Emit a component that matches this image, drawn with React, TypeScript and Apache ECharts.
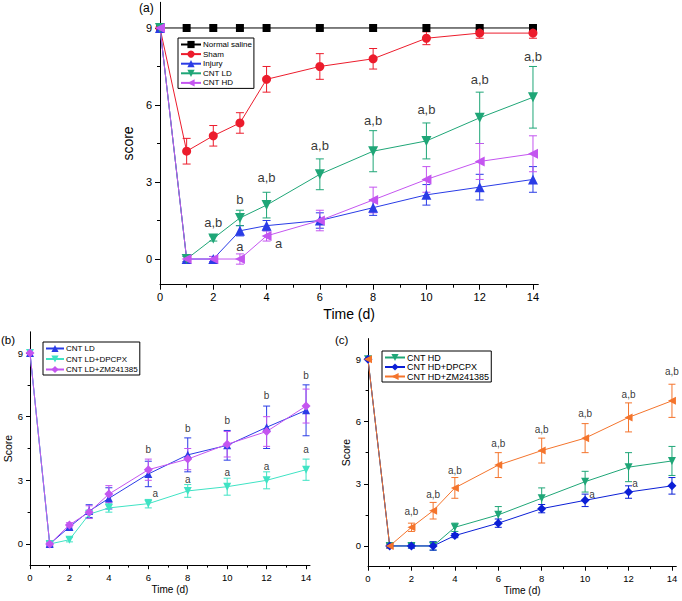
import React, { useEffect, useRef } from "react";
import * as echarts from "echarts";

const FONT = "'Liberation Sans', Arial, sans-serif";

// ---------- shared axis values ----------
const days = [0, 1, 2, 3, 4, 6, 8, 10, 12, 14];
const xTickValues = [0, 2, 4, 6, 8, 10, 12, 14];
const xMinorTickValues = [1, 3, 5, 7, 9, 11, 13];
const yTickValues = [0, 3, 6, 9];
const yMinorTickValues = [1.5, 4.5, 7.5];

// ---------- panel (a) ----------
const aNormalSaline = [9, 9, 9, 9, 9, 9, 9, 9, 9, 9];
const aSham = [9, 4.2, 4.8, 5.3, 7.0, 7.5, 7.8, 8.6, 8.8, 8.8];
const aShamErr = [0, 0.5, 0.4, 0.4, 0.5, 0.5, 0.4, 0.25, 0.2, 0.2];
const aInjury = [9, 0, 0, 1.1, 1.3, 1.5, 2.0, 2.5, 2.8, 3.1];
const aInjuryErr = [0, 0.1, 0.1, 0.2, 0.2, 0.3, 0.3, 0.4, 0.5, 0.5];
const aCntLd = [9, 0, 0.8, 1.6, 2.1, 3.3, 4.2, 4.6, 5.5, 6.3];
const aCntLdErr = [0, 0.1, 0.1, 0.3, 0.5, 0.6, 0.8, 0.7, 1.0, 1.2];
const aCntHd = [9, 0, 0, 0, 0.9, 1.5, 2.3, 3.1, 3.8, 4.1];
const aCntHdErr = [0, 0.1, 0.1, 0.2, 0.2, 0.4, 0.5, 0.5, 0.7, 0.7];
const aNoteX = [2, 3, 4, 6, 8, 10, 12, 14, 3, 4.45];
const aNoteY = [1.44, 2.3, 3.16, 4.44, 5.41, 5.84, 7.01, 7.87, 0.47, 0.62];
const aNoteText = ["a,b", "b", "a,b", "a,b", "a,b", "a,b", "a,b", "a,b", "a", "a"];

// ---------- panel (b) ----------
const bCntLd = [9, 0, 0.8, 1.55, 2.15, 3.3, 4.2, 4.65, 5.5, 6.3];
const bCntLdErr = [0, 0.1, 0.1, 0.3, 0.5, 0.6, 0.8, 0.7, 1.0, 1.2];
const bDpcpx = [9, 0, 0.2, 1.4, 1.7, 1.9, 2.5, 2.7, 3.0, 3.5];
const bDpcpxErr = [0, 0.1, 0.1, 0.2, 0.2, 0.2, 0.3, 0.4, 0.4, 0.5];
const bZm = [9, 0, 0.9, 1.5, 2.35, 3.5, 4.0, 4.7, 5.3, 6.5];
const bZmErr = [0, 0.1, 0.1, 0.3, 0.4, 0.5, 0.5, 0.6, 0.7, 0.8];
const bNoteX = [6, 6.35, 8, 8, 10, 10, 12, 12, 14, 14];
const bNoteY = [4.43, 2.39, 5.45, 3.05, 5.84, 3.36, 7.02, 3.64, 7.93, 4.43];
const bNoteText = ["b", "a", "b", "a", "b", "a", "b", "a", "b", "a"];

// ---------- panel (c) ----------
const cCntHd = [9, 0, 0, 0, 0.9, 1.5, 2.3, 3.1, 3.8, 4.1];
const cCntHdErr = [0, 0.1, 0.1, 0.2, 0.2, 0.4, 0.5, 0.5, 0.7, 0.7];
const cDpcpx = [9, 0, 0, 0, 0.5, 1.1, 1.8, 2.2, 2.6, 2.9];
const cDpcpxErr = [0, 0.1, 0.1, 0.2, 0.1, 0.2, 0.2, 0.3, 0.3, 0.4];
const cZm = [9, 0, 0.9, 1.7, 2.8, 3.9, 4.6, 5.2, 6.2, 7.0];
const cZmErr = [0, 0.1, 0.2, 0.4, 0.5, 0.6, 0.6, 0.7, 0.7, 0.8];
const cNoteX = [2, 3, 4, 6, 8, 10, 12, 14, 10.32, 12.3, 14.28];
const cNoteY = [1.65, 2.49, 3.62, 4.95, 5.63, 6.4, 7.31, 8.4, 2.49, 3.02, 3.34];
const cNoteText = ["a,b", "a,b", "a,b", "a,b", "a,b", "a,b", "a,b", "a,b", "a", "a", "a"];

const C = {
  black: "#000000",
  red: "#ec1c2c",
  blue: "#2a3ce6",
  green: "#1fa677",
  violet: "#c455f0",
  cyan: "#3fe3c4",
  darkBlue: "#0b1fd6",
  orange: "#f4742c",
};

function xAxes(g: number, fontSize: number, nameSize: number, nameGap: number, margin: number, tickLen: number) {
  return [
    {
      type: "value", gridIndex: g, min: 0, max: 14.2, position: "bottom",
      axisLine: { show: true, onZero: false, lineStyle: { color: "#000", width: 1 } },
      axisTick: { show: true, inside: false, length: tickLen, customValues: xTickValues, lineStyle: { color: "#000", width: 1 } },
      axisLabel: { customValues: xTickValues, fontSize, color: "#000", margin, fontFamily: FONT },
      splitLine: { show: false },
      name: "Time (d)", nameLocation: "middle", nameGap,
      nameTextStyle: { fontSize: nameSize, color: "#000", fontFamily: FONT },
    },
    {
      type: "value", gridIndex: g, min: 0, max: 14.2, position: "bottom",
      axisLine: { show: false, onZero: false },
      axisTick: { show: true, inside: false, length: tickLen * 0.6, customValues: xMinorTickValues, lineStyle: { color: "#000", width: 1 } },
      axisLabel: { show: false },
      splitLine: { show: false },
    },
  ];
}

function yAxes(g: number, name: string, fontSize: number, nameSize: number, nameGap: number, margin: number, tickLen: number) {
  return [
    {
      type: "value", gridIndex: g, min: -1, max: 10, position: "left",
      axisLine: { show: true, onZero: false, lineStyle: { color: "#000", width: 1 } },
      axisTick: { show: true, inside: false, length: tickLen, customValues: yTickValues, lineStyle: { color: "#000", width: 1 } },
      axisLabel: { customValues: yTickValues, fontSize, color: "#000", margin, fontFamily: FONT },
      splitLine: { show: false },
      name, nameLocation: "middle", nameGap,
      nameTextStyle: { fontSize: nameSize, color: "#000", fontFamily: FONT },
    },
    {
      type: "value", gridIndex: g, min: -1, max: 10, position: "left", offset: 0,
      axisLine: { show: false, onZero: false },
      axisTick: { show: true, inside: false, length: tickLen * 0.6, customValues: yMinorTickValues, lineStyle: { color: "#000", width: 1 } },
      axisLabel: { show: false },
      splitLine: { show: false },
    },
  ];
}

function lineSeries(name: string, g: number, values: number[], color: string, symbol: string, rotate: number, size: number) {
  return {
    type: "line", name, xAxisIndex: 2 * g, yAxisIndex: 2 * g,
    data: days.map((d, i) => [d, values[i]]),
    symbol, symbolRotate: rotate, symbolSize: size, showSymbol: true,
    lineStyle: { color, width: 1 }, itemStyle: { color },
    emphasis: { disabled: true }, z: 3,
  };
}

function errSeries(g: number, values: number[], errs: number[], color: string, cap: number) {
  const data = days.map((d, i) => [d, values[i], errs[i]]).filter((p) => p[2] > 0);
  return {
    type: "custom", xAxisIndex: 2 * g, yAxisIndex: 2 * g, data, silent: true, clip: false,
    encode: { x: 0, y: 1 }, z: 2,
    renderItem: (_params: any, api: any) => {
      const x = api.value(0), y = api.value(1), e = api.value(2);
      const t = api.coord([x, y + e]);
      const b = api.coord([x, y - e]);
      const st = { stroke: color, lineWidth: 1 };
      return {
        type: "group",
        children: [
          { type: "line", shape: { x1: t[0], y1: t[1], x2: b[0], y2: b[1] }, style: st },
          { type: "line", shape: { x1: t[0] - cap, y1: t[1], x2: t[0] + cap, y2: t[1] }, style: st },
          { type: "line", shape: { x1: b[0] - cap, y1: b[1], x2: b[0] + cap, y2: b[1] }, style: st },
        ],
      };
    },
  };
}

function noteSeries(g: number, xs: number[], ys: number[], texts: string[], fontSize: number) {
  return {
    type: "scatter", xAxisIndex: 2 * g, yAxisIndex: 2 * g, silent: true, z: 6,
    data: xs.map((x, i) => ({ value: [x, ys[i]], label: { formatter: texts[i] } })),
    symbolSize: 1, itemStyle: { color: "transparent" },
    label: { show: true, position: "inside", color: "#000", fontSize, fontFamily: FONT },
  };
}

function legendCfg(names: string[], left: number, top: number, fontSize: number, lineHeight: number, itemWidth: number, itemGap: number) {
  return {
    data: names, orient: "vertical", left, top, selectedMode: false,
    itemWidth, itemHeight: 9, itemGap,
    padding: [2, 2, 1, 2], borderColor: "#000", borderWidth: 1, borderRadius: 0,
    backgroundColor: "#fff",
    formatter: (n: string) => n.split(":")[1],
    textStyle: { fontSize, lineHeight, color: "#000", fontFamily: FONT, padding: [0, 0, 0, -3] },
  };
}

export default function App() {
  const ref = useRef<HTMLDivElement>(null);
  useEffect(() => {
    if (!ref.current) return;
    const chart = echarts.init(ref.current, undefined, { renderer: "svg" });
    const option: any = {
      animation: false,
      backgroundColor: "#fff",
      textStyle: { fontFamily: FONT },
      grid: [
        { left: 160, top: 2.3, width: 378.3, height: 282.4 },
        { left: 30, top: 331.8, width: 280, height: 233.4 },
        { left: 368, top: 338.6, width: 308.3, height: 228.1 },
      ],
      xAxis: [
        ...xAxes(0, 11, 14, 22, 7, 5),
        ...xAxes(1, 9.5, 10, 19, 7, 4),
        ...xAxes(2, 9.5, 10, 19, 7, 4),
      ],
      yAxis: [
        ...yAxes(0, "score", 11, 14, 20, 8, 5),
        ...yAxes(1, "Score", 9.5, 10.5, 17, 7, 4),
        ...yAxes(2, "Score", 9.5, 10.5, 17, 7, 4),
      ],
      legend: [
        legendCfg(["a:Normal saline", "a:Sham", "a:Injury", "a:CNT LD", "a:CNT HD"], 178, 38, 8, 9, 20, 0.6),
        legendCfg(["b:CNT LD", "b:CNT LD+DPCPX", "b:CNT LD+ZM241385"], 43, 342, 8, 9, 18, 1.5),
        legendCfg(["c:CNT HD", "c:CNT HD+DPCPX", "c:CNT HD+ZM241385"], 382, 351, 9, 9, 20, 0.5),
      ],
      graphic: [
        { type: "text", left: 139, top: 2, style: { text: "(a)", fontSize: 12, fill: "#000", fontFamily: FONT } },
        { type: "text", left: 1, top: 334, style: { text: "(b)", fontSize: 11.5, fill: "#000", fontFamily: FONT } },
        { type: "text", left: 335, top: 334, style: { text: "(c)", fontSize: 11.5, fill: "#000", fontFamily: FONT } },
      ],
      series: [
        // panel a
        errSeries(0, aSham, aShamErr, C.red, 4),
        errSeries(0, aInjury, aInjuryErr, C.blue, 4),
        errSeries(0, aCntLd, aCntLdErr, C.green, 4),
        errSeries(0, aCntHd, aCntHdErr, C.violet, 4),
        lineSeries("a:Normal saline", 0, aNormalSaline, C.black, "rect", 0, 8),
        lineSeries("a:Sham", 0, aSham, C.red, "circle", 0, 9),
        lineSeries("a:Injury", 0, aInjury, C.blue, "triangle", 0, 10),
        lineSeries("a:CNT LD", 0, aCntLd, C.green, "triangle", 180, 10),
        lineSeries("a:CNT HD", 0, aCntHd, C.violet, "triangle", 90, 10),
        noteSeries(0, aNoteX, aNoteY, aNoteText, 13),
        // panel b
        errSeries(1, bCntLd, bCntLdErr, C.blue, 3.5),
        errSeries(1, bDpcpx, bDpcpxErr, C.cyan, 3.5),
        errSeries(1, bZm, bZmErr, C.violet, 3.5),
        lineSeries("b:CNT LD", 1, bCntLd, C.blue, "triangle", 0, 8),
        lineSeries("b:CNT LD+DPCPX", 1, bDpcpx, C.cyan, "triangle", 180, 8),
        lineSeries("b:CNT LD+ZM241385", 1, bZm, C.violet, "diamond", 0, 9),
        noteSeries(1, bNoteX, bNoteY, bNoteText, 10),
        // panel c
        errSeries(2, cCntHd, cCntHdErr, C.green, 3.5),
        errSeries(2, cDpcpx, cDpcpxErr, C.darkBlue, 3.5),
        errSeries(2, cZm, cZmErr, C.orange, 3.5),
        lineSeries("c:CNT HD", 2, cCntHd, C.green, "triangle", 180, 8),
        lineSeries("c:CNT HD+DPCPX", 2, cDpcpx, C.darkBlue, "diamond", 0, 9),
        lineSeries("c:CNT HD+ZM241385", 2, cZm, C.orange, "triangle", 90, 8),
        noteSeries(2, cNoteX, cNoteY, cNoteText, 10),
      ],
    };
    chart.setOption(option);
    return () => chart.dispose();
  }, []);
  return (
    <div
      ref={ref}
      style={{ position: "absolute", left: 0, top: 0, width: 682, height: 601, background: "#fff" }}
    />
  );
}
